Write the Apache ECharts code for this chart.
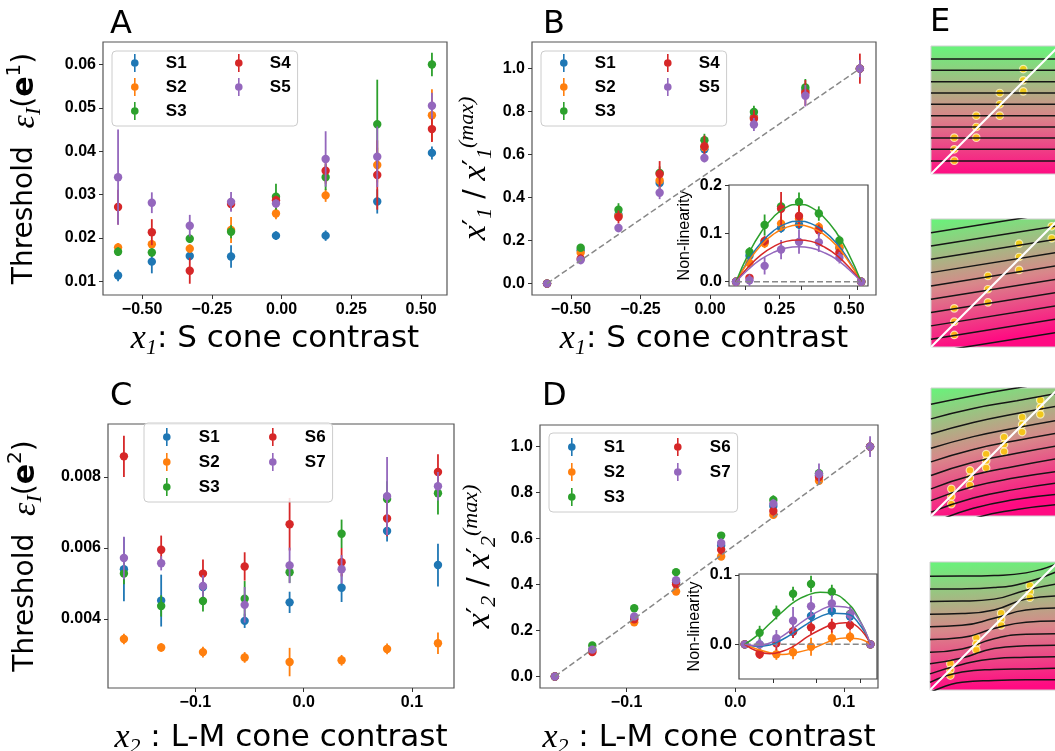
<!DOCTYPE html>
<html>
<head>
<meta charset="utf-8">
<script src="https://cdn.jsdelivr.net/npm/echarts@6/dist/echarts.min.js"></script>
<style>
  html, body { margin: 0; padding: 0; background: #fff; }
  #chart { width: 1055px; height: 751px; }
</style>
</head>
<body>
<div id="chart"></div>
<script>
// ---------- panel A / B : S cone contrast ----------
const aX = [-0.586, -0.465, -0.329, -0.181, -0.02, 0.158, 0.343, 0.539];
const aS1 = [0.0113, 0.0145, 0.0158, 0.0157, 0.0205, 0.0205, 0.0284, 0.0396];
const aS1Err = [0.0013, 0.0027, 0.0010, 0.0026, 0.0010, 0.0012, 0.0028, 0.0015];
const aS2 = [0.0178, 0.0185, 0.0175, 0.0218, 0.0256, 0.0298, 0.0368, 0.0483];
const aS2Err = [0.0010, 0.0010, 0.0010, 0.0030, 0.0013, 0.0015, 0.0040, 0.0060];
const aS3 = [0.0168, 0.0166, 0.0198, 0.0214, 0.0295, 0.0340, 0.0462, 0.0600];
const aS3Err = [0.0010, 0.0010, 0.0010, 0.0015, 0.0030, 0.0030, 0.0103, 0.0027];
const aS4 = [0.0271, 0.0213, 0.0124, 0.0278, 0.0287, 0.0355, 0.0345, 0.0451];
const aS4Err = [0.0040, 0.0030, 0.0030, 0.0015, 0.0010, 0.0030, 0.0080, 0.0030];
const aS5 = [0.0340, 0.0281, 0.0228, 0.0283, 0.0279, 0.0382, 0.0387, 0.0505];
const aS5Err = [0.0110, 0.0024, 0.0025, 0.0023, 0.0010, 0.0064, 0.0070, 0.0030];

const bS1 = [0, 0.155, 0.320, 0.468, 0.625, 0.775, 0.900, 1.0];
const bS1Err = [0, 0.02, 0.02, 0.03, 0.02, 0.02, 0.03, 0.03];
const bS2 = [0, 0.144, 0.315, 0.480, 0.634, 0.772, 0.891, 1.0];
const bS2Err = [0, 0.02, 0.02, 0.04, 0.02, 0.02, 0.03, 0.03];
const bS3 = [0, 0.167, 0.344, 0.515, 0.667, 0.798, 0.912, 1.0];
const bS3Err = [0, 0.015, 0.03, 0.03, 0.03, 0.03, 0.04, 0.03];
const bS4 = [0, 0.116, 0.310, 0.510, 0.639, 0.767, 0.887, 1.0];
const bS4Err = [0, 0.02, 0.03, 0.06, 0.05, 0.04, 0.06, 0.07];
const bS5 = [0, 0.110, 0.259, 0.423, 0.584, 0.740, 0.874, 1.0];
const bS5Err = [0, 0.02, 0.02, 0.03, 0.02, 0.03, 0.05, 0.04];
const bDiag = [[-0.586, 0], [0.539, 1]];

// inset B : non-linearity
const nlB1 = [0, 0.054, 0.083, 0.112, 0.119, 0.110, 0.070, 0];
const nlB1Err = [0, 0.01, 0.01, 0.01, 0.01, 0.01, 0.01, 0];
const nlB2 = [0, 0.039, 0.080, 0.121, 0.131, 0.114, 0.072, 0];
const nlB2Err = [0, 0.01, 0.01, 0.015, 0.012, 0.01, 0.01, 0];
const nlB3 = [0, 0.062, 0.118, 0.157, 0.166, 0.142, 0.086, 0];
const nlB3Err = [0, 0.01, 0.022, 0.012, 0.02, 0.015, 0.01, 0];
const nlB4 = [0, 0.008, 0.085, 0.152, 0.137, 0.107, 0.061, 0];
const nlB4Err = [0, 0.005, 0.01, 0.035, 0.025, 0.012, 0.015, 0];
const nlB5 = [0, 0.003, 0.033, 0.067, 0.083, 0.082, 0.050, 0];
const nlB5Err = [0, 0.012, 0.018, 0.02, 0.025, 0.02, 0.012, 0];
const fitBX = [-0.586, -0.474, -0.361, -0.249, -0.136, -0.024, 0.089, 0.201, 0.314, 0.426, 0.539];
const fitB1 = [0, 0.045, 0.081, 0.106, 0.121, 0.126, 0.121, 0.106, 0.081, 0.045, 0];
const fitB2 = [0, 0.042, 0.076, 0.099, 0.113, 0.118, 0.113, 0.099, 0.076, 0.042, 0];
const fitB3 = [0, 0.058, 0.103, 0.135, 0.155, 0.161, 0.155, 0.135, 0.103, 0.058, 0];
const fitB4 = [0, 0.031, 0.056, 0.073, 0.084, 0.087, 0.084, 0.073, 0.056, 0.031, 0];
const fitB5 = [0, 0.026, 0.047, 0.061, 0.070, 0.073, 0.070, 0.061, 0.047, 0.026, 0];

// ---------- panel C / D : L-M cone contrast ----------
const cX = [-0.166, -0.1316, -0.093, -0.0545, -0.013, 0.035, 0.077, 0.124];
const cS1 = [0.00540, 0.00452, 0.00490, 0.00395, 0.00447, 0.00488, 0.00648, 0.00552];
const cS1Err = [0.0009, 0.00073, 0.0003, 0.0002, 0.0003, 0.0004, 0.0003, 0.0006];
const cS2 = [0.00344, 0.00320, 0.00307, 0.00292, 0.00279, 0.00284, 0.00316, 0.00332];
const cS2Err = [0.00015, 0.00012, 0.00015, 0.00015, 0.0004, 0.00015, 0.00015, 0.0003];
const cS3 = [0.00528, 0.00437, 0.00451, 0.00457, 0.00532, 0.00640, 0.00738, 0.00754];
const cS3Err = [0.0003, 0.0003, 0.0003, 0.0005, 0.0003, 0.0004, 0.0005, 0.0006];
const cS6 = [0.00858, 0.00595, 0.00528, 0.00548, 0.00667, 0.00560, 0.00683, 0.00814];
const cS6Err = [0.00058, 0.0004, 0.0004, 0.0004, 0.00074, 0.0004, 0.0005, 0.0005];
const cS7 = [0.00572, 0.00557, 0.00493, 0.00440, 0.00551, 0.00540, 0.00746, 0.00774];
const cS7Err = [0.0006, 0.0002, 0.0003, 0.0005, 0.0005, 0.0004, 0.0011, 0.0004];

const dS1 = [0, 0.115, 0.255, 0.410, 0.570, 0.742, 0.875, 1.0];
const dS1Err = [0, 0.01, 0.01, 0.01, 0.015, 0.02, 0.02, 0.02];
const dS2 = [0, 0.110, 0.236, 0.370, 0.522, 0.703, 0.851, 1.0];
const dS2Err = [0, 0.01, 0.01, 0.01, 0.01, 0.015, 0.015, 0.02];
const dS3 = [0, 0.135, 0.297, 0.454, 0.613, 0.768, 0.884, 1.0];
const dS3Err = [0, 0.01, 0.01, 0.01, 0.012, 0.02, 0.02, 0.02];
const dS6 = [0, 0.106, 0.249, 0.401, 0.551, 0.720, 0.868, 1.0];
const dS6Err = [0, 0.01, 0.01, 0.015, 0.02, 0.02, 0.02, 0.03];
const dS7 = [0, 0.117, 0.261, 0.419, 0.581, 0.752, 0.881, 1.0];
const dS7Err = [0, 0.01, 0.015, 0.015, 0.02, 0.02, 0.045, 0.045];
const dDiag = [[-0.166, 0], [0.124, 1]];

// inset D : non-linearity
const nlD1 = [0, 0.000, 0.005, 0.018, 0.041, 0.048, 0.040, 0];
const nlD1Err = [0, 0.008, 0.008, 0.008, 0.008, 0.008, 0.008, 0];
const nlD2 = [0, -0.013, -0.0144, -0.0115, -0.0034, 0.0087, 0.011, 0];
const nlD2Err = [0, 0.008, 0.008, 0.01, 0.013, 0.01, 0.008, 0];
const nlD3 = [0, 0.0168, 0.046, 0.073, 0.087, 0.076, 0.044, 0];
const nlD3Err = [0, 0.01, 0.01, 0.01, 0.012, 0.01, 0.01, 0];
const nlD6 = [0, -0.0144, 0.0014, 0.019, 0.0245, 0.027, 0.028, 0];
const nlD6Err = [0, 0.006, 0.01, 0.01, 0.01, 0.01, 0.008, 0];
const nlD7 = [0, 0.000, 0.0087, 0.034, 0.055, 0.059, 0.043, 0];
const nlD7Err = [0, 0.008, 0.012, 0.02, 0.015, 0.012, 0.012, 0];
const fitDX = [-0.166, -0.137, -0.108, -0.079, -0.050, -0.021, 0.008, 0.037, 0.066, 0.095, 0.124];
const fitD1 = [0, -0.003, -0.001, 0.007, 0.018, 0.030, 0.040, 0.045, 0.044, 0.032, 0];
const fitD2 = [0, -0.007, -0.012, -0.0145, -0.012, -0.008, -0.0015, 0.006, 0.009, 0.008, 0];
const fitD3 = [0, 0.013, 0.030, 0.047, 0.062, 0.071, 0.075, 0.073, 0.063, 0.040, 0];
const fitD6 = [0, -0.010, -0.0135, -0.010, -0.0015, 0.011, 0.021, 0.0285, 0.031, 0.025, 0];
const fitD7 = [0, -0.002, 0.002, 0.012, 0.025, 0.038, 0.049, 0.055, 0.054, 0.038, 0];

// ---------- tick labels ----------
const ticksS = [-0.5, -0.25, 0, 0.25, 0.5];
const ticksLM = [-0.1, 0, 0.1];
const ticksA = [0.01, 0.02, 0.03, 0.04, 0.05, 0.06];
const ticksC = [0.004, 0.006, 0.008];
const ticksNorm = [0, 0.2, 0.4, 0.6, 0.8, 1.0];
const ticksInsetB = [0, 0.1, 0.2];
const ticksInsetD = [0, 0.1];
const ticksInsetBX = [-0.5, 0, 0.5];
const ticksInsetDX = [-0.1, 0, 0.1];

// ---------- panel E : iso-discrimination sketches ----------
const eDiag = [[0, 0], [1, 1]];
const e1Levels = [0.898, 0.810, 0.721, 0.633, 0.545, 0.456, 0.367, 0.281, 0.193, 0.102];
const e1Dots = [[0.182, 0.284], [0.182, 0.193], [0.182, 0.104], [0.354, 0.456], [0.354, 0.367], [0.354, 0.284],
  [0.537, 0.633], [0.537, 0.545], [0.537, 0.456], [0.721, 0.820], [0.721, 0.732], [0.721, 0.646]];
const e2Left = [0.893, 0.789, 0.685, 0.581, 0.477, 0.373, 0.269, 0.165, 0.061, -0.043];
const e2Right = [1.053, 0.949, 0.845, 0.741, 0.637, 0.533, 0.429, 0.325, 0.221, 0.117];
const e2Dots = [[0.182, 0.302], [0.182, 0.198], [0.182, 0.094], [0.445, 0.555], [0.445, 0.451], [0.445, 0.349],
  [0.688, 0.807], [0.688, 0.703], [0.688, 0.602], [0.943, 0.943], [0.943, 0.849]];
const e3X = [0, 0.33, 0.67, 1];
const e3Lines = [
  [0.873, 0.94, 1.00, 1.05], [0.759, 0.84, 0.90, 0.96], [0.640, 0.73, 0.80, 0.86],
  [0.529, 0.62, 0.69, 0.75], [0.423, 0.52, 0.59, 0.65], [0.317, 0.42, 0.49, 0.55],
  [0.212, 0.32, 0.39, 0.45], [0.120, 0.23, 0.30, 0.35], [0.030, 0.14, 0.21, 0.26],
  [-0.06, 0.06, 0.13, 0.17], [-0.15, -0.02, 0.05, 0.09]
];
const e3Dots = [[0.159, 0.212], [0.159, 0.153], [0.159, 0.093], [0.304, 0.357], [0.304, 0.299], [0.304, 0.241],
  [0.431, 0.484], [0.431, 0.431], [0.431, 0.376], [0.571, 0.616], [0.571, 0.561], [0.571, 0.503],
  [0.712, 0.772], [0.712, 0.714], [0.712, 0.656], [0.854, 0.905], [0.854, 0.847], [0.854, 0.794]];
const e4X = [0, 0.25, 0.5, 0.75, 1];
const e4Lines = [
  [0.889, 0.890, 0.895, 0.915, 0.99], [0.789, 0.790, 0.800, 0.840, 0.93],
  [0.692, 0.695, 0.710, 0.780, 0.83], [0.592, 0.597, 0.625, 0.710, 0.735],
  [0.495, 0.505, 0.560, 0.625, 0.64], [0.395, 0.410, 0.480, 0.530, 0.54],
  [0.295, 0.320, 0.400, 0.435, 0.44], [0.205, 0.250, 0.325, 0.345, 0.35],
  [0.126, 0.200, 0.245, 0.255, 0.26], [0.060, 0.140, 0.160, 0.165, 0.17],
  [-0.02, 0.060, 0.075, 0.080, 0.08]
];
const e4Dots = [[0.159, 0.205], [0.159, 0.158], [0.159, 0.113], [0.362, 0.408], [0.362, 0.361], [0.362, 0.313],
  [0.556, 0.600], [0.556, 0.553], [0.556, 0.505], [0.780, 0.816], [0.780, 0.768], [0.780, 0.721]];

// ---------- styling helpers ----------
const subjColor = { S1: '#1f77b4', S2: '#ff7f0e', S3: '#2ca02c', S4: '#d62728', S5: '#9467bd', S6: '#d62728', S7: '#9467bd' };
const ERR_ICON = 'path://M4.2,0H5.8V18H4.2Z M5,5.2A3.8,3.8,0,1,1,5,12.8A3.8,3.8,0,1,1,5,5.2Z';
const eTop = '#66f57a';
const eMid = '#d9868a';
const eBottom = '#ff0a82';

function fmt(v, d) {
  return (v < -1e-9 ? '\u2212' : '') + Math.abs(v).toFixed(d);
}

function renderErr(params, api) {
  const x = api.value(0), y = api.value(1), e = api.value(2);
  const c = api.coord([x, y]);
  const hi = api.coord([x, y + e]);
  const lo = api.coord([x, y - e]);
  const color = api.visual('color');
  return {
    type: 'group',
    children: [
      { type: 'line', shape: { x1: c[0], y1: hi[1], x2: c[0], y2: lo[1] }, style: { stroke: color, lineWidth: 1.8 } },
      { type: 'circle', shape: { cx: c[0], cy: c[1], r: 4.2 }, style: { fill: color } }
    ]
  };
}

function errSeries(name, xs, ys, errs, idx) {
  return {
    name: name, type: 'custom', xAxisIndex: idx, yAxisIndex: idx, clip: true,
    itemStyle: { color: subjColor[name] },
    data: xs.map((x, i) => [x, ys[i], errs[i]]),
    renderItem: renderErr
  };
}

function lineSeries(points, idx, color, width, dashed, smooth) {
  return {
    type: 'line', xAxisIndex: idx, yAxisIndex: idx, data: points, symbol: 'none',
    smooth: smooth || false, silent: true,
    lineStyle: { color: color, width: width, type: dashed ? [6, 3] : 'solid' }
  };
}

function dotSeries(points, idx) {
  return {
    type: 'scatter', xAxisIndex: idx, yAxisIndex: idx, data: points, symbolSize: 7.5, silent: true,
    itemStyle: { color: '#ffd000', borderColor: 'rgba(255,250,210,0.95)', borderWidth: 1.2 }
  };
}

const tickFont = { fontFamily: 'Liberation Sans', fontWeight: 'bold', fontSize: 16, color: '#000' };

const mathRich = {
  n: { fontFamily: 'DejaVu Sans', fontSize: 28, lineHeight: 40, color: '#000' },
  nx: { fontFamily: 'DejaVu Sans', fontSize: 31, lineHeight: 40, color: '#000' },
  m: { fontFamily: 'Liberation Serif', fontStyle: 'italic', fontSize: 34, lineHeight: 40, color: '#000' },
  b: { fontFamily: 'DejaVu Sans', fontWeight: 'bold', fontSize: 30, lineHeight: 40, color: '#000' },
  p: { fontFamily: 'DejaVu Sans', fontSize: 28, lineHeight: 40, color: '#000' },
  sub: { fontFamily: 'Liberation Serif', fontStyle: 'italic', fontSize: 22, lineHeight: 22, verticalAlign: 'bottom', color: '#000' },
  sup: { fontFamily: 'DejaVu Sans', fontSize: 20, lineHeight: 20, verticalAlign: 'top', color: '#000' },
  supi: { fontFamily: 'Liberation Serif', fontStyle: 'italic', fontSize: 22, lineHeight: 22, verticalAlign: 'top', color: '#000' }
};

function valAxis(idx, min, max, ticks, dec, extra) {
  const ax = {
    type: 'value', gridIndex: idx, min: min, max: max,
    axisLine: { show: false, onZero: false },
    splitLine: { show: false },
    axisTick: { show: !!ticks, customValues: ticks || [], length: 4, lineStyle: { color: '#333' } },
    axisLabel: Object.assign({ show: dec != null, customValues: ticks || [], margin: 7,
      formatter: v => fmt(v, dec) }, tickFont)
  };
  return Object.assign(ax, extra || {});
}

function hiddenAxis(idx) {
  return { type: 'value', gridIndex: idx, min: 0, max: 1, show: false, axisLine: { onZero: false } };
}

function legendCol(names, left, top, padding, gap, textPad, boxed) {
  return {
    orient: 'vertical', left: left, top: top, padding: padding, itemGap: gap,
    itemWidth: 10, itemHeight: 18, selectedMode: false,
    data: names.map(n => ({ name: n, icon: ERR_ICON })),
    formatter: n => '{t|' + n + '}',
    textStyle: { rich: { t: { fontFamily: 'Liberation Sans', fontWeight: 'bold', fontSize: 17, color: '#000', padding: [0, 0, 0, textPad] } } },
    backgroundColor: boxed ? 'rgba(255,255,255,0.85)' : 'transparent',
    borderColor: boxed ? '#cccccc' : 'transparent', borderWidth: boxed ? 1 : 0, borderRadius: 4,
    z: boxed ? 6 : 7
  };
}

function mainGrid(left, top, width, height) {
  return { left: left, top: top, width: width, height: height, show: true, outerBoundsMode: 'none',
    borderColor: '#555', borderWidth: 1.2, backgroundColor: 'transparent' };
}

function eGrid(top, left, tilt) {
  return { left: left, top: top, width: 128, height: 128, show: true, outerBoundsMode: 'none',
    borderColor: '#cfcfcf', borderWidth: 1,
    backgroundColor: { type: 'linear', x: 0, y: 0, x2: tilt, y2: 1,
      colorStops: [{ offset: 0, color: eTop }, { offset: 0.55, color: eMid }, { offset: 1, color: eBottom }] } };
}

const zip = (xs, ys) => xs.map((x, i) => [x, ys[i]]);

// ---------- build chart ----------
const chart = echarts.init(document.getElementById('chart'));

const grids = [
  mainGrid(103, 42, 344, 253),             // 0 A
  mainGrid(532, 42, 344, 253),             // 1 B
  { left: 729, top: 185, width: 139, height: 101, show: true, outerBoundsMode: 'none',
    borderColor: '#444', borderWidth: 1.2, backgroundColor: '#fff' },   // 2 B inset
  mainGrid(108, 424, 346, 264),            // 3 C
  mainGrid(540, 425, 338, 263),            // 4 D
  { left: 739, top: 574, width: 138, height: 105, show: true, outerBoundsMode: 'none',
    borderColor: '#444', borderWidth: 1.2, backgroundColor: '#fff' },   // 5 D inset
  eGrid(46, 931, 0),                       // 6 E1
  eGrid(219, 931, 0.16),                   // 7 E2
  eGrid(388, 931, 0.22),                   // 8 E3
  eGrid(562, 930, 0.05)                    // 9 E4
];

const xName12 = (sub, sep) => '{m|x}{sub|' + sub + '}{nx|' + sep + '}';
const xAxes = [
  valAxis(0, -0.64, 0.593, ticksS, 2, { name: xName12('1', ': S cone contrast'), nameLocation: 'middle', nameGap: 24, nameTextStyle: { rich: mathRich } }),
  valAxis(1, -0.64, 0.597, ticksS, 2, { name: xName12('1', ': S cone contrast'), nameLocation: 'middle', nameGap: 24, nameTextStyle: { rich: mathRich } }),
  valAxis(2, -0.649, 0.60, ticksInsetBX, null),
  valAxis(3, -0.1807, 0.1388, ticksLM, 1, { name: xName12('2', ' : L-M cone contrast'), nameLocation: 'middle', nameGap: 30, nameTextStyle: { rich: mathRich } }),
  valAxis(4, -0.1797, 0.1313, ticksLM, 1, { name: xName12('2', ' : L-M cone contrast'), nameLocation: 'middle', nameGap: 30, nameTextStyle: { rich: mathRich } }),
  valAxis(5, -0.1792, 0.1392, ticksInsetDX, null),
  hiddenAxis(6), hiddenAxis(7), hiddenAxis(8), hiddenAxis(9)
];

const thrName = k => '{n|Threshold  }{m|\u03b5}{sub|I}{n|(}{b|e}{sup|' + k + '}{n|)}';
const normName = k => '{m|x}{p|\u2032}{sub|' + k + '}{n| / }{m|x}{p|\u2032}{sub|' + k + '}{supi|(max)}';
const yAxes = [
  valAxis(0, 0.0068, 0.0652, ticksA, 2, { name: thrName('1'), nameLocation: 'middle', nameGap: 58, nameTextStyle: { rich: mathRich } }),
  valAxis(1, -0.053, 1.124, ticksNorm, 1, { name: normName('1'), nameLocation: 'middle', nameGap: 36, nameTextStyle: { rich: mathRich } }),
  valAxis(2, -0.009, 0.2015, ticksInsetB, 1, { name: 'Non-linearity', nameLocation: 'middle', nameGap: 36,
    nameTextStyle: { fontFamily: 'Liberation Sans', fontSize: 16, color: '#000' } }),
  valAxis(3, 0.00206, 0.00949, ticksC, 3, { name: thrName('2'), nameLocation: 'middle', nameGap: 62, nameTextStyle: { rich: mathRich } }),
  valAxis(4, -0.05, 1.094, ticksNorm, 1, { name: normName('2'), nameLocation: 'middle', nameGap: 40, nameTextStyle: { rich: mathRich } }),
  valAxis(5, -0.05, 0.1015, ticksInsetD, 1, { name: 'Non-linearity', nameLocation: 'middle', nameGap: 36,
    nameTextStyle: { fontFamily: 'Liberation Sans', fontSize: 16, color: '#000' } }),
  hiddenAxis(6), hiddenAxis(7), hiddenAxis(8), hiddenAxis(9)
];

const series = [];
// A
[['S1', aS1, aS1Err], ['S2', aS2, aS2Err], ['S3', aS3, aS3Err], ['S4', aS4, aS4Err], ['S5', aS5, aS5Err]]
  .forEach(s => series.push(errSeries(s[0], aX, s[1], s[2], 0)));
// B
series.push(lineSeries(bDiag, 1, '#888', 1.5, true));
[['S1', bS1, bS1Err], ['S2', bS2, bS2Err], ['S3', bS3, bS3Err], ['S4', bS4, bS4Err], ['S5', bS5, bS5Err]]
  .forEach(s => series.push(errSeries(s[0], aX, s[1], s[2], 1)));
// B inset
series.push(lineSeries([[aX[0], 0], [aX[7], 0]], 2, '#888', 1.5, true));
[['S1', fitB1], ['S2', fitB2], ['S3', fitB3], ['S4', fitB4], ['S5', fitB5]]
  .forEach(s => series.push(lineSeries(zip(fitBX, s[1]), 2, subjColor[s[0]], 1.5, false, true)));
[['S1', nlB1, nlB1Err], ['S2', nlB2, nlB2Err], ['S3', nlB3, nlB3Err], ['S4', nlB4, nlB4Err], ['S5', nlB5, nlB5Err]]
  .forEach(s => series.push(errSeries(s[0], aX, s[1], s[2], 2)));
// C
[['S1', cS1, cS1Err], ['S2', cS2, cS2Err], ['S3', cS3, cS3Err], ['S6', cS6, cS6Err], ['S7', cS7, cS7Err]]
  .forEach(s => series.push(errSeries(s[0], cX, s[1], s[2], 3)));
// D
series.push(lineSeries(dDiag, 4, '#888', 1.5, true));
[['S1', dS1, dS1Err], ['S2', dS2, dS2Err], ['S3', dS3, dS3Err], ['S6', dS6, dS6Err], ['S7', dS7, dS7Err]]
  .forEach(s => series.push(errSeries(s[0], cX, s[1], s[2], 4)));
// D inset
series.push(lineSeries([[cX[0], 0], [cX[7], 0]], 5, '#888', 1.5, true));
[['S1', fitD1], ['S2', fitD2], ['S3', fitD3], ['S6', fitD6], ['S7', fitD7]]
  .forEach(s => series.push(lineSeries(zip(fitDX, s[1]), 5, subjColor[s[0]], 1.5, false, true)));
[['S1', nlD1, nlD1Err], ['S2', nlD2, nlD2Err], ['S3', nlD3, nlD3Err], ['S6', nlD6, nlD6Err], ['S7', nlD7, nlD7Err]]
  .forEach(s => series.push(errSeries(s[0], cX, s[1], s[2], 5)));
// E1
e1Levels.forEach(l => series.push(lineSeries([[0, l], [1.2, l]], 6, '#151515', 1.5)));
series.push(lineSeries(eDiag, 6, '#fff', 2));
series.push(dotSeries(e1Dots, 6));
// E2
e2Left.forEach((l, i) => series.push(lineSeries([[0, l], [1, e2Right[i]]], 7, '#151515', 1.5)));
series.push(lineSeries(eDiag, 7, '#fff', 2));
series.push(dotSeries(e2Dots, 7));
// E3
e3Lines.forEach(ys => series.push(lineSeries(zip(e3X, ys), 8, '#151515', 1.5, false, true)));
series.push(lineSeries(eDiag, 8, '#fff', 2));
series.push(dotSeries(e3Dots, 8));
// E4
e4Lines.forEach(ys => series.push(lineSeries(zip(e4X, ys), 9, '#151515', 1.5, false, true)));
series.push(lineSeries(eDiag, 9, '#fff', 2));
series.push(dotSeries(e4Dots, 9));

const legends = [
  legendCol(['S1', 'S2', 'S3'], 112, 51, [3, 111, 6, 19], 6, 21, true),
  legendCol(['S4', 'S5'], 235, 54, 0, 6, 21, false),
  legendCol(['S1', 'S2', 'S3'], 541, 51, [3, 111, 6, 19], 6, 21, true),
  legendCol(['S4', 'S5'], 664, 54, 0, 6, 21, false),
  legendCol(['S1', 'S2', 'S3'], 144, 423, [5, 113, 6, 19], 7, 22, true),
  legendCol(['S6', 'S7'], 269, 428, 0, 7, 22, false),
  legendCol(['S1', 'S2', 'S3'], 549, 433, [5, 113, 6, 19], 7, 22, true),
  legendCol(['S6', 'S7'], 674, 438, 0, 7, 22, false)
];

const letter = (t, x, y) => ({ type: 'text', x: x, y: y, z: 10,
  style: { text: t, fontFamily: 'DejaVu Sans', fontSize: 32, fill: '#000', verticalAlign: 'middle' } });

chart.setOption({
  animation: false,
  backgroundColor: '#fff',
  textStyle: { fontFamily: 'Liberation Sans' },
  grid: grids,
  xAxis: xAxes,
  yAxis: yAxes,
  legend: legends,
  series: series,
  graphic: [letter('A', 110, 25), letter('B', 543, 25), letter('C', 110, 397), letter('D', 542, 397), letter('E', 930, 23)]
});
</script>
</body>
</html>
